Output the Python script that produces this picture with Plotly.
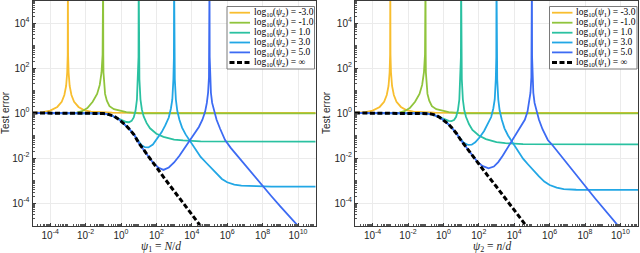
import numpy as np
import plotly.graph_objects as go

# ---------------- data (log10 values) ----------------
tick_exps = [-4, -2, 0, 2, 4, 6, 8, 10]
ytick_exps = [-4, -2, 0, 2, 4]
series_labels = ["-3.0", "-1.0", "1.0", "3.0", "5.0", "\u221e"]
colors = ["#F8BE2F", "#90C43C", "#2AC1A1", "#22A7E5", "#3D6BF3", "#000000"]
x_titles = ["<i>ψ</i><sub>1</sub> = <i>N</i>/<i>d</i>", "<i>ψ</i><sub>2</sub> = <i>n</i>/<i>d</i>"]

# Left panel: test error vs psi1 for several psi2
L_yellow_x = [-5, -4.7, -4.4, -4.0, -3.6, -3.35, -3.2, -3.1, -3.04, -3.01, -3.0, -2.99, -2.96, -2.9, -2.8, -2.65, -2.4, -2.1, -1.7, -1.2, -0.5, 1, 11]
L_yellow_y = [0.0, 0.01, 0.04, 0.11, 0.27, 0.5, 0.8, 1.2, 1.8, 2.6, 6.0, 2.6, 1.8, 1.2, 0.8, 0.5, 0.27, 0.13, 0.06, 0.03, 0.015, 0.005, 0.0]

L_green_x = [-5, -3, -2.5, -2.2, -1.9, -1.6, -1.35, -1.2, -1.1, -1.04, -1.01, -1.0, -0.99, -0.96, -0.9, -0.8, -0.65, -0.4, -0.1, 0.3, 1, 2, 11]
L_green_y = [0.0, 0.0, 0.02, 0.08, 0.22, 0.5, 0.85, 1.25, 1.8, 2.6, 6.0, 2.6, 1.8, 1.25, 0.85, 0.55, 0.3, 0.17, 0.1, 0.04, -0.01, -0.02, -0.02]

L_teal_x = [-5, -2, -1.2, -1, -0.6, -0.3, -0.1, 0.1, 0.3, 0.45, 0.6, 0.72, 0.82, 0.9, 0.96, 0.99, 1.0, 1.01, 1.04, 1.1, 1.18, 1.28, 1.45, 1.64, 2.0, 2.4, 3.0, 3.5, 4.5, 11]
L_teal_y = [0.0, 0.0, 0.0, -0.02, -0.09, -0.2, -0.28, -0.36, -0.4, -0.41, -0.35, -0.2, 0.1, 0.6, 1.5, 2.5, 6.0, 2.5, 1.5, 0.6, 0.15, -0.15, -0.45, -0.68, -0.92, -1.06, -1.18, -1.22, -1.26, -1.27]

L_cyan_x = [-5, -1.5, -1, -0.6, -0.2, 0, 0.25, 0.5, 0.75, 0.95, 1.15, 1.35, 1.55, 1.8, 2.05, 2.3, 2.5, 2.7, 2.82, 2.9, 2.96, 2.99, 3.0, 3.01, 3.04, 3.1, 3.18, 3.3, 3.45, 3.65, 3.9, 4.2, 4.5, 4.8, 5.1, 5.4, 5.7, 6.0, 6.4, 6.8, 7.5, 8.5, 11]
L_cyan_y = [0.0, 0.0, -0.02, -0.08, -0.24, -0.36, -0.53, -0.74, -0.98, -1.22, -1.42, -1.52, -1.53, -1.4, -1.15, -0.85, -0.55, -0.2, 0.2, 0.6, 1.5, 2.5, 6.0, 2.5, 1.5, 0.6, 0.1, -0.3, -0.65, -0.95, -1.25, -1.6, -1.95, -2.2, -2.45, -2.7, -2.93, -3.08, -3.18, -3.23, -3.26, -3.27, -3.27]

L_blue_x = [-5, -1.5, -1, -0.6, -0.2, 0, 0.25, 0.5, 0.75, 1.0, 1.5, 1.8, 2.1, 2.4, 2.7, 3.0, 3.3, 3.6, 3.9, 4.15, 4.4, 4.6, 4.75, 4.85, 4.92, 4.97, 4.99, 5.0, 5.01, 5.03, 5.08, 5.15, 5.25, 5.4, 5.6, 5.88, 6.2, 6.6, 7.0, 7.5, 8.0, 8.5, 9.0, 9.5, 10.0, 10.5]
L_blue_y = [0.0, 0.0, -0.02, -0.08, -0.24, -0.36, -0.53, -0.74, -0.98, -1.33, -1.88, -2.2, -2.42, -2.53, -2.42, -2.2, -1.9, -1.55, -1.2, -0.92, -0.62, -0.3, 0.05, 0.45, 0.9, 1.6, 2.5, 6.0, 2.5, 1.6, 0.9, 0.45, 0.1, -0.3, -0.7, -1.2, -1.55, -1.93, -2.3, -2.78, -3.25, -3.7, -4.15, -4.58, -5.0, -5.45]

L_black_x = [-5, -1.5, -1.2, -1, -0.8, -0.6, -0.4, -0.2, 0, 0.25, 0.5, 0.75, 1, 1.5, 2, 2.5, 3, 3.5, 4, 4.5, 5]
L_black_y = [0.0, 0.0, -0.005, -0.02, -0.04, -0.08, -0.14, -0.24, -0.36, -0.53, -0.74, -0.98, -1.33, -1.88, -2.42, -2.95, -3.47, -3.98, -4.5, -5.03, -5.55]

# Right panel: test error vs psi2 for several psi1
R_yellow_x = L_yellow_x
R_yellow_y = L_yellow_y
R_green_x = L_green_x
R_green_y = L_green_y

R_teal_x = [-5, -2, -1.2, -1, -0.6, -0.3, -0.1, 0.1, 0.3, 0.45, 0.6, 0.72, 0.82, 0.9, 0.96, 0.99, 1.0, 1.01, 1.04, 1.1, 1.18, 1.28, 1.45, 1.64, 2.0, 2.4, 3.0, 3.5, 4.5, 11]
R_teal_y = [0.0, 0.0, 0.0, -0.015, -0.06, -0.16, -0.24, -0.31, -0.35, -0.36, -0.31, -0.17, 0.12, 0.6, 1.5, 2.5, 6.0, 2.5, 1.5, 0.6, 0.12, -0.18, -0.5, -0.75, -1.0, -1.16, -1.29, -1.34, -1.38, -1.39]

R_cyan_x = [-5, -1.5, -1, -0.6, -0.2, 0, 0.25, 0.5, 0.75, 0.95, 1.15, 1.4, 1.6, 1.8, 2.05, 2.3, 2.5, 2.7, 2.82, 2.9, 2.96, 2.99, 3.0, 3.01, 3.04, 3.1, 3.18, 3.3, 3.45, 3.65, 3.9, 4.2, 4.5, 4.8, 5.1, 5.4, 5.7, 6.0, 6.4, 6.8, 7.5, 8.5, 11]
R_cyan_y = [0.0, 0.0, -0.015, -0.06, -0.2, -0.31, -0.47, -0.68, -0.92, -1.14, -1.32, -1.42, -1.41, -1.3, -1.08, -0.8, -0.52, -0.18, 0.2, 0.6, 1.5, 2.5, 6.0, 2.5, 1.5, 0.6, 0.1, -0.3, -0.68, -1.0, -1.32, -1.68, -2.03, -2.3, -2.57, -2.82, -3.05, -3.2, -3.32, -3.38, -3.41, -3.42, -3.42]

R_blue_x = [-5, -1.5, -1, -0.6, -0.2, 0, 0.25, 0.5, 0.75, 1.0, 1.5, 1.9, 2.2, 2.55, 2.85, 3.1, 3.35, 3.6, 3.9, 4.15, 4.4, 4.6, 4.75, 4.85, 4.92, 4.97, 4.99, 5.0, 5.01, 5.03, 5.08, 5.15, 5.25, 5.4, 5.6, 5.9, 6.12, 6.6, 7.0, 7.5, 8.19, 8.6, 9.0, 9.5, 9.85, 10.5]
R_blue_y = [0.0, 0.0, -0.015, -0.06, -0.2, -0.31, -0.47, -0.68, -0.92, -1.22, -1.75, -2.15, -2.35, -2.46, -2.38, -2.18, -1.9, -1.58, -1.2, -0.9, -0.6, -0.3, 0.05, 0.45, 0.9, 1.6, 2.5, 6.0, 2.5, 1.6, 0.9, 0.45, 0.1, -0.3, -0.72, -1.2, -1.39, -1.85, -2.25, -2.75, -3.42, -3.82, -4.2, -4.67, -5.0, -5.6]

R_black_x = [-5, -1.5, -1.2, -1, -0.8, -0.6, -0.4, -0.2, 0, 0.25, 0.5, 0.75, 1, 1.5, 2, 2.5, 3, 3.5, 4, 4.5, 5]
R_black_y = [0.0, 0.0, -0.005, -0.015, -0.03, -0.06, -0.11, -0.2, -0.31, -0.47, -0.68, -0.92, -1.22, -1.75, -2.27, -2.78, -3.28, -3.79, -4.3, -4.83, -5.35]

left_series = [(L_yellow_x, L_yellow_y), (L_green_x, L_green_y), (L_teal_x, L_teal_y),
               (L_cyan_x, L_cyan_y), (L_blue_x, L_blue_y), (L_black_x, L_black_y)]
right_series = [(R_yellow_x, R_yellow_y), (R_green_x, R_green_y), (R_teal_x, R_teal_y),
                (R_cyan_x, R_cyan_y), (R_blue_x, R_blue_y), (R_black_x, R_black_y)]

# ---------------- figure ----------------
W, H = 640, 253
fig = go.Figure()

for panel, series in (("", left_series), ("2", right_series)):
    for i, (xs, ys) in enumerate(series):
        is_inf = i == len(series) - 1
        fig.add_trace(go.Scatter(
            x=10 ** np.array(xs, dtype=float), y=10 ** np.array(ys, dtype=float),
            mode="lines", xaxis="x" + panel, yaxis="y" + panel, showlegend=False,
            line=dict(color=colors[i], width=3 if is_inf else 1.8,
                      dash="5px,2.5px" if is_inf else "solid"),
            hoverinfo="skip"))

tick_font = dict(family="Liberation Sans, Arial, sans-serif", size=10, color="#262626")
axis_common = dict(type="log", showline=True, mirror=True, linecolor="#3a3a3a", linewidth=1,
                   ticks="inside", ticklen=3, tickcolor="#3a3a3a",
                   showgrid=True, gridcolor="#EBEBEB", gridwidth=1, zeroline=False,
                   tickfont=tick_font,
                   minor=dict(ticks="inside", ticklen=2, tickcolor="#555555", dtick="D1", showgrid=False))

xticktext = ["10<sup>%d</sup>" % e for e in tick_exps]
yticktext = ["10<sup>%d</sup>" % e for e in ytick_exps]

def px2x(p):
    return p / W

def py2y(p):
    return 1 - p / H

ydom = [py2y(225.5), py2y(0.5)]
xdomL = [px2x(32.5), px2x(315.7)]
xdomR = [px2x(354.9), px2x(638.1)]

title_font_serif = dict(family="Liberation Serif, DejaVu Serif, serif", size=11.5, color="#262626")

fig.update_layout(
    width=W, height=H, margin=dict(l=0, r=0, t=0, b=0),
    paper_bgcolor="white", plot_bgcolor="white",
    xaxis=dict(axis_common, domain=xdomL, range=[-5, 11], anchor="y",
               tickmode="array", tickvals=[10.0 ** e for e in tick_exps], ticktext=xticktext),
    yaxis=dict(axis_common, domain=ydom, range=[-5, 5], anchor="x",
               tickmode="array", tickvals=[10.0 ** e for e in ytick_exps], ticktext=yticktext,
               title=dict(text="Test error", font=dict(tick_font, size=10), standoff=2)),
    xaxis2=dict(axis_common, domain=xdomR, range=[-5, 11], anchor="y2",
                tickmode="array", tickvals=[10.0 ** e for e in tick_exps], ticktext=xticktext),
    yaxis2=dict(axis_common, domain=ydom, range=[-5, 5], anchor="x2",
                tickmode="array", tickvals=[10.0 ** e for e in ytick_exps], ticktext=yticktext,
                title=dict(text="Test error", font=dict(tick_font, size=10), standoff=2)),
)

# ---------------- manual legends and x titles ----------------
shapes = []
annotations = []
for cx, txt in zip((161.0, 492.0), x_titles):
    annotations.append(dict(xref="paper", yref="paper", x=px2x(cx), y=py2y(246.5),
                            xanchor="center", yanchor="middle", showarrow=False,
                            text=txt, font=title_font_serif))

leg_font = dict(family="Liberation Serif, DejaVu Serif, serif", size=9.5, color="#000000")
row_y = [12.7, 22.7, 32.7, 42.5, 52.4, 62.6]
for (bx0, bx1, by0, by1, sym) in ((227.0, 314.5, 6.5, 69.0, "2"), (549.5, 637.0, 6.5, 69.0, "1")):
    shapes.append(dict(type="rect", xref="paper", yref="paper",
                       x0=px2x(bx0), x1=px2x(bx1), y0=py2y(by1), y1=py2y(by0),
                       line=dict(color="#7a7a7a", width=1), fillcolor="white", layer="above"))
    for i, lab in enumerate(series_labels):
        is_inf = i == len(series_labels) - 1
        shapes.append(dict(type="line", xref="paper", yref="paper",
                           x0=px2x(bx0 + 2.5), x1=px2x(bx0 + 23), y0=py2y(row_y[i]), y1=py2y(row_y[i]),
                           line=dict(color=colors[i], width=3 if is_inf else 1.8,
                                     dash="5px,2.5px" if is_inf else "solid"), layer="above"))
        annotations.append(dict(xref="paper", yref="paper", x=px2x(bx0 + 24.5), y=py2y(row_y[i]),
                                xanchor="left", yanchor="middle", showarrow=False,
                                text="log<sub>10</sub>(<i>ψ</i><sub>%s</sub>) = %s" % (sym, lab),
                                font=leg_font))

fig.update_layout(shapes=shapes, annotations=annotations)
fig.write_html("out.html", config={"displayModeBar": False},
               post_script="document.body.style.margin='0';document.body.style.padding='0';")
